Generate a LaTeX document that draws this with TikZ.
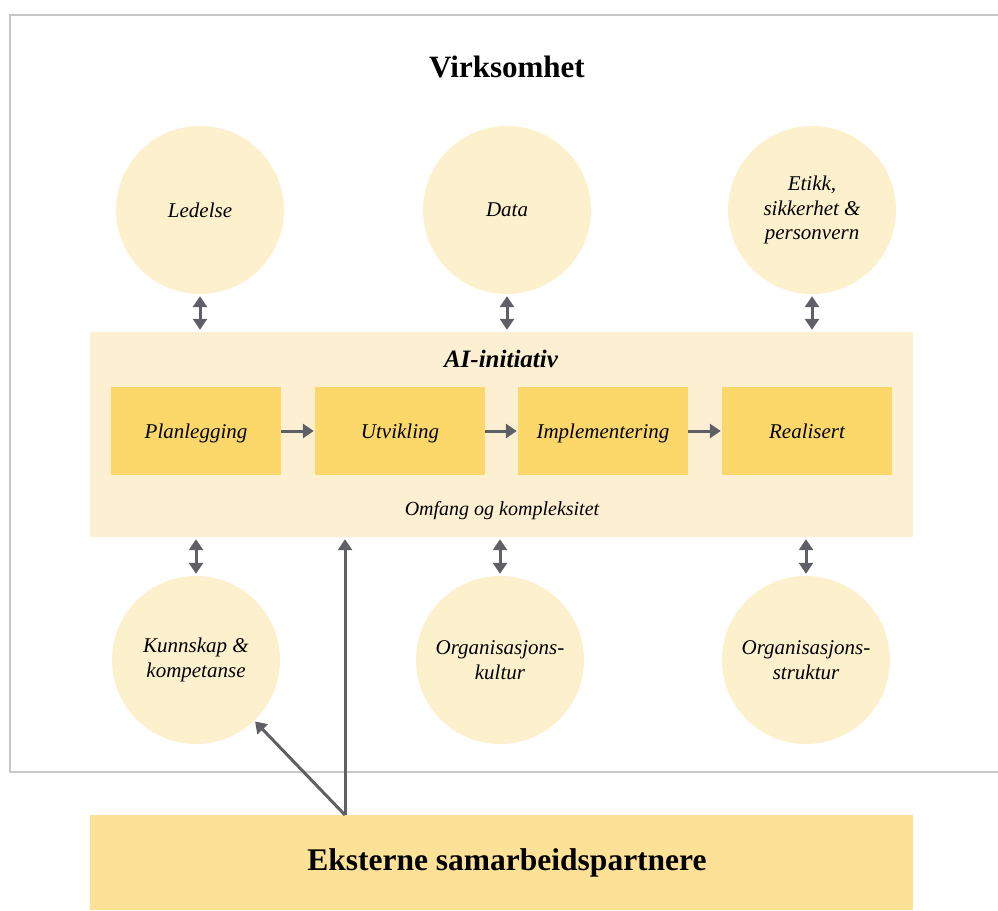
\documentclass[tikz,border=0pt]{standalone}
\usepackage{fontspec}
\setmainfont{Liberation Serif}
\usetikzlibrary{arrows.meta}
\definecolor{circfill}{HTML}{FDF0CC}
\definecolor{aifill}{HTML}{FDF0D2}
\definecolor{phasefill}{HTML}{FCD86A}
\definecolor{extfill}{HTML}{FDE197}
\definecolor{arrowgray}{HTML}{5F6066}
\definecolor{framegray}{HTML}{C8C8C8}
\begin{document}
\begin{tikzpicture}[x=1pt,y=-1pt,
  topic/.style={circle, fill=circfill, minimum size=168pt, inner sep=0pt,
    align=center, font=\fontsize{21}{24.5}\selectfont\itshape},
  phase/.style={rectangle, fill=phasefill, minimum width=170pt,
    minimum height=88pt, inner sep=0pt, text height=19pt, text depth=5pt,
    font=\fontsize{21}{24}\selectfont\itshape},
  tip/.tip={Triangle[length=11pt,width=14pt]},
  link/.style={draw=arrowgray, line width=3pt, -tip},
  duplex/.style={draw=arrowgray, line width=3pt, tip-tip, shorten <=2pt, shorten >=2pt},
]
\useasboundingbox (0,0) rectangle (998,910);

% organisation frame (open to the right)
\draw[framegray, line width=2.5pt] (998,15) -- (10,15) -- (10,772) -- (998,772);
\node[font=\fontsize{31}{34}\selectfont\bfseries, anchor=base] (title) at (507,77) {Virksomhet};

% AI initiative block
\node[fill=aifill, minimum width=823pt, minimum height=205pt, inner sep=0pt] (ai) at (501.5,434.5) {};
\node[font=\fontsize{25}{28}\selectfont\bfseries\itshape, anchor=base] (aititle) at (501,367) {AI-initiativ};
\node[font=\fontsize{20}{23}\selectfont\itshape, anchor=base] (scope) at (502,515) {Omfang og kompleksitet};

\node[phase] (plan) at (196,431) {Planlegging};
\node[phase] (utv)  at (400,431) {Utvikling};
\node[phase] (impl) at (603,431) {Implementering};
\node[phase] (real) at (807,431) {Realisert};

\draw[link, shorten >=1pt] (plan.east) -- (utv.west);
\draw[link, shorten >=1pt] (utv.east) -- (impl.west);
\draw[link, shorten >=1pt] (impl.east) -- (real.west);

% surrounding factors
\node[topic] (led)  at (200,210) {Ledelse};
\node[topic] (data) at (507,210) {Data};
\node[topic] (etikk) at (812,210) {Etikk,\\sikkerhet \&\\personvern};
\node[topic] (kunn) at (196,660) {Kunnskap \&\\kompetanse};
\node[topic] (kult) at (500,660) {Organisasjons-\\kultur};
\node[topic] (strukt) at (806,660) {Organisasjons-\\struktur};

\draw[duplex] (led.south) -- (led.south |- ai.north);
\draw[duplex] (data.south) -- (data.south |- ai.north);
\draw[duplex] (etikk.south) -- (etikk.south |- ai.north);
\draw[duplex] (kunn.north |- ai.south) -- (kunn.north);
\draw[duplex] (kult.north |- ai.south) -- (kult.north);
\draw[duplex] (strukt.north |- ai.south) -- (strukt.north);

% external partners
\node[fill=extfill, minimum width=823pt, minimum height=95pt, inner sep=0pt] (ext) at (501.5,862.5) {};
\node[font=\fontsize{31.5}{35}\selectfont\bfseries, anchor=base] (extlabel) at (507,870) {Eksterne samarbeidspartnere};

\coordinate (src) at (345,815);
\draw[link, shorten >=2pt] (src) -- (src |- ai.south);
\draw[link, shorten >=1pt] (src) -- (kunn);
\end{tikzpicture}
\end{document}
